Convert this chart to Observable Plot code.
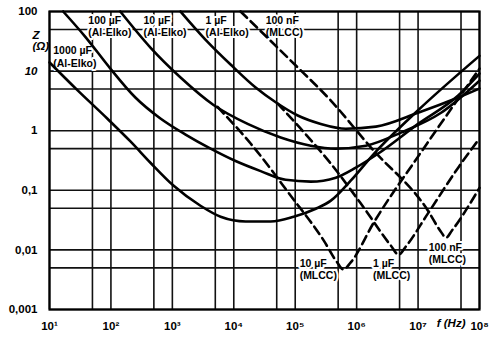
<!DOCTYPE html>
<html><head><meta charset="utf-8">
<script src="https://cdn.jsdelivr.net/npm/d3@7"></script>
<script src="https://cdn.jsdelivr.net/npm/@observablehq/plot@0.6"></script>
<style>
html,body{margin:0;padding:0;background:#fff;}
#chart svg{display:block;}
</style></head><body><div id="chart"></div>
<script>
// grid values
const gridF = [10, 50, 100, 500, 1e3, 5e3, 1e4, 5e4, 1e5, 5e5, 1e6, 5e6, 1e7, 5e7, 1e8];
const gridZ = [0.001, 0.005, 0.01, 0.05, 0.1, 0.5, 1, 5, 10, 50, 100];
// tick labels
const xTicks = [10, 1e2, 1e3, 1e4, 1e5, 1e6, 1e7, 1e8];
const xTickLabels = ["10¹", "10²", "10³", "10⁴", "10⁵", "10⁶", "10⁷", "10⁸"];
const yTicks = [0.001, 0.01, 0.1, 1, 100];
const yTicksItalic = [10];
const yTickLabels = {0.001: "0,001", 0.01: "0,01", 0.1: "0,1", 1: "1", 10: "10", 100: "100"};

// Al-Elko curves (solid)
const elko1000F = [10, 29, 87, 208, 440, 1040, 2870, 6100, 15600, 39800, 94600, 2.16e5, 3.8e5, 8.0e5, 1.91e6, 1.0e7, 1e8];
const elko1000Z = [14, 4.7, 1.6, 0.66, 0.29, 0.12, 0.055, 0.036, 0.030, 0.030, 0.036, 0.049, 0.067, 0.145, 0.41, 2.2, 18];
const elko100F = [16.7, 38, 98, 250, 640, 1640, 4190, 10700, 27400, 70000, 1.79e5, 4.58e5, 9.7e5, 2.22e6, 1.0e7, 4.5e7, 1e8];
const elko100Z = [100, 38, 11, 3.6, 1.6, 0.86, 0.50, 0.31, 0.21, 0.15, 0.14, 0.163, 0.24, 0.41, 1.3, 3.9, 9.1];
const elko10F = [142, 440, 1360, 4680, 16800, 58000, 1.79e5, 4.58e5, 1.41e6, 5.26e6, 2.37e7, 1e8];
const elko10Z = [100, 24.8, 7.8, 2.7, 1.3, 0.77, 0.56, 0.50, 0.56, 0.93, 2.0, 6.9];
const elko1F = [1360, 3740, 8870, 22700, 48100, 1.1e5, 2.61e5, 6.67e5, 2.06e6, 1.0e7, 4.5e7, 1e8];
const elko1Z = [100, 31, 12.9, 5.3, 3.0, 1.8, 1.3, 1.08, 1.17, 2.0, 3.6, 5.1];

// MLCC curves (dashed)
const mlcc10F = [5450, 18800, 84500, 2.92e5, 4.75e5, 6.1e5, 7.96e5, 1.91e6, 1.11e7, 1e8];
const mlcc10Z = [2.5, 0.61, 0.081, 0.0143, 0.0063, 0.0047, 0.0061, 0.029, 0.43, 11];
const mlcc1F = [51800, 1.23e5, 3.8e5, 1.31e6, 3.61e6, 4.83e6, 6.29e6, 1.45e7, 4.5e7, 1e8];
const mlcc1Z = [2.85, 1.08, 0.28, 0.051, 0.0118, 0.0083, 0.0113, 0.041, 0.24, 0.74];
const mlcc100nF = [12900, 84500, 3.8e5, 1.71e6, 1.45e7, 2.37e7, 2.85e7, 3.54e7, 1e8];
const mlcc100nZ = [100, 15, 3.2, 0.52, 0.0455, 0.020, 0.016, 0.021, 0.11];

// curve labels
const labelText = ["1000 µF\n(Al-Elko)", "100 µF\n(Al-Elko)", "10 µF\n(Al-Elko)", "1 µF\n(Al-Elko)", "100 nF\n(MLCC)", "10 µF\n(MLCC)", "1 µF\n(MLCC)", "100 nF\n(MLCC)"];
const labelF = [11.5, 42.8, 338, 3470, 33000, 1.18e5, 1.84e6, 1.49e7];
const labelZ = [17.5, 57.7, 57.7, 57.7, 57.7, 0.0047, 0.0047, 0.0088];

// axis titles
const yTitleText = ["Z", "(Ω)"];
const yTitleZ = [39.5, 25.8];
const xTitleText = ["f (Hz)"];
const xTitleF = [3.45e7];

const toRows = (name, F, Z) => F.map((f, i) => ({name, f, z: Z[i]}));
const solidRows = [
  ...toRows("1000 µF", elko1000F, elko1000Z),
  ...toRows("100 µF", elko100F, elko100Z),
  ...toRows("10 µF", elko10F, elko10Z),
  ...toRows("1 µF", elko1F, elko1Z)
];
const dashedRows = [
  ...toRows("10 µF MLCC", mlcc10F, mlcc10Z),
  ...toRows("1 µF MLCC", mlcc1F, mlcc1Z),
  ...toRows("100 nF MLCC", mlcc100nF, mlcc100nZ)
];
const labels = labelText.map((t, i) => ({t, f: labelF[i], z: labelZ[i]}));

const FONT = "'Liberation Sans', Arial, Helvetica, sans-serif";
const xFmt = d => xTickLabels[xTicks.indexOf(d)];
const yFmt = d => yTickLabels[d];

const chart = Plot.plot({
  width: 500, height: 351,
  marginLeft: 49, marginRight: 21, marginTop: 11, marginBottom: 42,
  style: {fontFamily: FONT, fontWeight: "bold", background: "#fff", color: "#000"},
  x: {type: "log", domain: [10, 1e8], axis: null, label: null},
  y: {type: "log", domain: [1e-3, 100], axis: null, label: null},
  marks: [
    Plot.ruleX(gridF, {stroke: "#111", strokeWidth: 1.6}),
    Plot.ruleY(gridZ, {stroke: "#111", strokeWidth: 1.6}),
    Plot.frame({stroke: "#000", strokeWidth: 2.2}),
    Plot.text(labels, {x: "f", y: "z", text: "t", textAnchor: "start", fill: "#fff", stroke: "#fff", strokeWidth: 4, fontSize: 10.5, fontWeight: "bold", lineHeight: 1.15}),
    Plot.line(solidRows, {x: "f", y: "z", z: "name", stroke: "#000", strokeWidth: 2.6, curve: "monotone-x"}),
    Plot.line(dashedRows, {x: "f", y: "z", z: "name", stroke: "#000", strokeWidth: 2.6, strokeDasharray: "9,5", curve: "monotone-x"}),
    Plot.text(labels, {x: "f", y: "z", text: "t", textAnchor: "start", fill: "#000", fontSize: 10.5, fontWeight: "bold", lineHeight: 1.15}),
    Plot.axisX(xTicks, {label: null, tickSize: 0, tickPadding: 12, tickFormat: xFmt, fontSize: 11.5, fontWeight: "bold", fill: "#000"}),
    Plot.axisY(yTicks, {label: null, tickSize: 0, tickPadding: 12, tickFormat: yFmt, fontSize: 11.5, fontWeight: "bold", fill: "#000"}),
    Plot.axisY(yTicksItalic, {label: null, tickSize: 0, tickPadding: 12, tickFormat: yFmt, fontSize: 11.5, fontWeight: "bold", fontStyle: "italic", fill: "#000"}),
    Plot.text(yTitleText, {y: yTitleZ, frameAnchor: "left", dx: -17, fontSize: 11.5, fontWeight: "bold", fontStyle: "italic", fill: "#000"}),
    Plot.text(xTitleText, {x: xTitleF, frameAnchor: "bottom", dy: 17, fontSize: 11.5, fontWeight: "bold", fontStyle: "italic", fill: "#000"})
  ]
});
document.getElementById("chart").appendChild(chart);
</script>
</body></html>
